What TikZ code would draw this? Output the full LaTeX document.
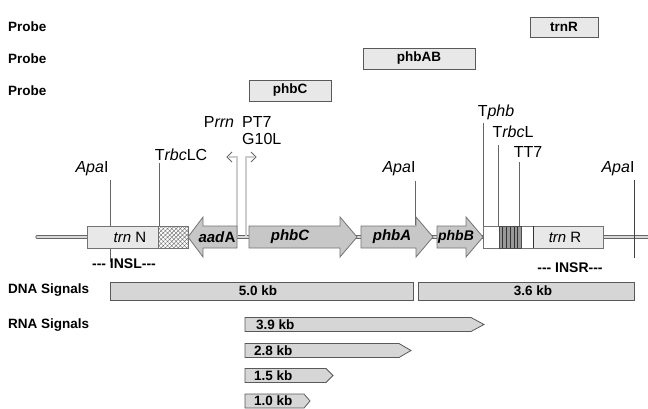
\documentclass[tikz,border=0pt]{standalone}
\usepackage{fontspec}
\setmainfont{Liberation Sans}
\usetikzlibrary{patterns.meta}
\begin{document}
\begin{tikzpicture}[x=1pt,y=-1pt,
  boldlbl/.style={font=\fontsize{13.5}{15}\selectfont\bfseries, inner sep=0pt},
  sitelbl/.style={font=\fontsize{16}{18}\selectfont, inner sep=0pt},
  genelbl/.style={font=\fontsize{15}{17}\selectfont, inner sep=0pt},
  probebox/.style={draw=black!65, fill=black!9, line width=0.9pt},
  genearrow/.style={draw=black!55, fill=black!22, line width=0.8pt},
  regbox/.style={draw=black!55, fill=black!9, line width=0.8pt},
  barbox/.style={draw=black!65, fill=black!16, line width=0.8pt},
  tick/.style={draw=black!60, line width=0.8pt},
  bb/.style={draw=black!60, double=black!15, line width=0.8pt, double distance=1.6pt},
  prom/.style={draw=black!60, double=black!20, line width=0.7pt, double distance=1.3pt},
  chev/.style={draw=black!60, line width=0.8pt}
]
\useasboundingbox (0,0) rectangle (648,409);
\fill[white] (0,0) rectangle (648,409);

% ---- probes
\node[boldlbl, anchor=west] (p1) at (8,27) {Probe};
\node[boldlbl, anchor=west] (p2) at (8,59) {Probe};
\node[boldlbl, anchor=west] (p3) at (8,91) {Probe};
\draw[probebox] (530,17) rectangle (598,37);
\node[boldlbl] (trnRp) at (564,27) {trnR};
\draw[probebox] (363,48) rectangle (475,69);
\node[boldlbl] (phbABp) at (419,58.5) {phbAB};
\draw[probebox] (249,80) rectangle (331,101);
\node[boldlbl] (phbCp) at (290,90.5) {phbC};

% ---- backbone
\draw[bb, line cap=round] (37,237) -- (648,237);

% ---- tick lines (behind boxes)
\draw[tick] (110,180) -- (110,262);
\draw[tick] (159,163) -- (159,230);
\draw[tick] (415,181) -- (415,225);
\draw[tick] (483,123) -- (483,230);
\draw[tick] (498,145) -- (498,230);
\draw[tick] (519,162) -- (519,230);

% ---- promoter arrows
\draw[prom] (237,236) -- (237,157) -- (229,157);
\draw[chev] (232,152) -- (227,157) -- (232,162);
\draw[prom] (246,236) -- (246,157) -- (254,157);
\draw[chev] (251,152) -- (256,157) -- (251,162);

% ---- left region: trnN + hatched
\draw[regbox] (87,226) rectangle (158,248);
\fill[white] (158,226) rectangle (188,248);
\fill[pattern={Hatch[angle=45,distance=3pt,line width=0.4pt]}, pattern color=black!55] (158,226) rectangle (188,248);
\draw[draw=black!55, line width=0.8pt] (158,226) rectangle (188,248);
\node[genelbl] (trnN) at (130,237) {\textit{trn} N};

% ---- gene arrows
\draw[genearrow] (237,226) -- (203,226) -- (203,217) -- (188,237) -- (203,257) -- (203,248) -- (237,248) -- cycle;
\node[genelbl, font=\fontsize{15}{17}\selectfont\bfseries] (aadA) at (217,237) {\textit{aad}A};
\draw[genearrow] (249,226) -- (340,226) -- (340,217) -- (357,237) -- (340,257) -- (340,248) -- (249,248) -- cycle;
\node[genelbl, font=\fontsize{15}{17}\selectfont\bfseries\itshape] (phbC) at (290,237) {phbC};
\draw[genearrow] (361,226) -- (416,226) -- (416,217) -- (433,237) -- (416,257) -- (416,248) -- (361,248) -- cycle;
\node[genelbl, font=\fontsize{15}{17}\selectfont\bfseries\itshape] (phbA) at (392,237) {phbA};
\draw[genearrow] (437,226) -- (466,226) -- (466,217) -- (483,237) -- (466,257) -- (466,248) -- (437,248) -- cycle;
\node[genelbl, font=\fontsize{14}{16}\selectfont\bfseries\itshape] (phbB) at (456,237) {phbB};

% ---- right region
\draw[draw=black!55, fill=white, line width=0.8pt] (483,226) rectangle (533,248);
\fill[black!40] (499,226) rectangle (521,248);
\foreach \xx in {499,502.7,506.4,510.1,513.8,517.5,521}
  \draw[black!80, line width=0.6pt] (\xx,226) -- (\xx,248);
\draw[draw=black!70, line width=0.6pt] (499,226) rectangle (521,248);
\draw[regbox] (533,226) rectangle (603,248);
\draw[black!80, line width=1pt] (533,226) -- (533,248);
\node[genelbl] (trnR) at (565,237) {\textit{trn} R};

% right ApaI line on top
\draw[draw=black!75, line width=1pt] (634,180) -- (634,258);

% ---- site labels
\node[sitelbl] (apa1) at (92,169) {\textit{Apa}I};
\node[sitelbl] (apa2) at (399,169) {\textit{Apa}I};
\node[sitelbl] (apa3) at (618,169) {\textit{Apa}I};
\node[sitelbl] (trbclc) at (181,155) {T\textit{rbc}LC};
\node[sitelbl] (prrn) at (219,122) {P\textit{rrn}};
\node[sitelbl, anchor=west] (pt7) at (242,122) {PT7};
\node[sitelbl, anchor=west] (g10l) at (242,138.5) {G10L};
\node[sitelbl] (tphb) at (496,112) {T\textit{phb}};
\node[sitelbl] (trbcl) at (513,132) {T\textit{rbc}L};
\node[sitelbl] (tt7) at (528,152) {TT7};

\node[font=\fontsize{14}{16}\selectfont\bfseries, inner sep=0pt] (insl) at (124,264) {{-}{-}{-} INSL{-}{-}{-}};
\node[font=\fontsize{14}{16}\selectfont\bfseries, inner sep=0pt] (insr) at (570,268) {{-}{-}{-} INSR{-}{-}{-}};

% ---- DNA signals
\node[boldlbl, anchor=west] (dna) at (8,290) {DNA Signals};
\draw[barbox] (110,282) rectangle (413,300);
\node[boldlbl] (d50) at (258,291) {5.0 kb};
\draw[barbox] (418,282) rectangle (634,300);
\node[boldlbl] (d36) at (533,291) {3.6 kb};

% ---- RNA signals
\node[boldlbl, anchor=west] (rna) at (8,325) {RNA Signals};
\draw[barbox] (245,317.5) -- (471,317.5) -- (484,324.5) -- (471,331.5) -- (245,331.5) -- cycle;
\node[boldlbl, anchor=west] (r39) at (256,324.5) {3.9 kb};
\draw[barbox] (245,343.5) -- (399,343.5) -- (411,350.5) -- (399,357.5) -- (245,357.5) -- cycle;
\node[boldlbl, anchor=west] (r28) at (254,350.5) {2.8 kb};
\draw[barbox] (245,368.5) -- (326,368.5) -- (333,375.5) -- (326,382.5) -- (245,382.5) -- cycle;
\node[boldlbl, anchor=west] (r15) at (254,375.5) {1.5 kb};
\draw[barbox] (245,394) -- (304,394) -- (310,401) -- (304,408) -- (245,408) -- cycle;
\node[boldlbl, anchor=west] (r10) at (254,401) {1.0 kb};
\end{tikzpicture}
\end{document}
